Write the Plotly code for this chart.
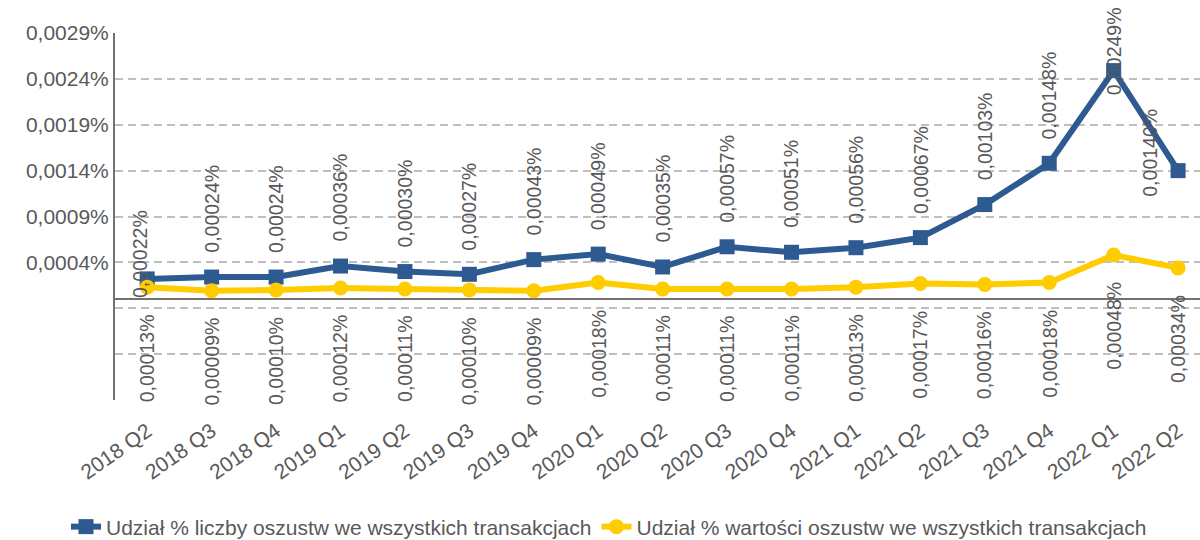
import plotly.graph_objects as go

# quarters on the x axis
quarters = ["2018 Q2", "2018 Q3", "2018 Q4", "2019 Q1", "2019 Q2", "2019 Q3",
            "2019 Q4", "2020 Q1", "2020 Q2", "2020 Q3", "2020 Q4", "2021 Q1",
            "2021 Q2", "2021 Q3", "2021 Q4", "2022 Q1", "2022 Q2"]

# share (in %) of fraudulent transactions - by count and by value
count_share = [0.00022, 0.00024, 0.00024, 0.00036, 0.00030, 0.00027, 0.00043,
               0.00049, 0.00035, 0.00057, 0.00051, 0.00056, 0.00067, 0.00103,
               0.00148, 0.00249, 0.00140]
value_share = [0.00013, 0.00009, 0.00010, 0.00012, 0.00011, 0.00010, 0.00009,
               0.00018, 0.00011, 0.00011, 0.00011, 0.00013, 0.00017, 0.00016,
               0.00018, 0.00048, 0.00034]

# y axis ticks (negative ones only get a gridline, no label)
y_ticks = [-0.0011, -0.0006, -0.0001, 0.0004, 0.0009, 0.0014, 0.0019, 0.0024, 0.0029]

count_name = "Udział % liczby oszustw we wszystkich transakcjach"
value_name = "Udział % wartości oszustw we wszystkich transakcjach"

BLUE = "#2E5A92"
YELLOW = "#FFCC00"
GREY_TXT = "#595959"
FONT = "Liberation Sans, Arial, sans-serif"


def pl(v, dec):
    return f"{v:.{dec}f}".replace(".", ",") + "%"


fig = go.Figure()
fig.add_trace(go.Scatter(
    x=quarters, y=count_share, name=count_name, mode="lines+markers",
    line=dict(color=BLUE, width=6),
    marker=dict(symbol="square", size=15, color=BLUE),
))
fig.add_trace(go.Scatter(
    x=quarters, y=value_share, name=value_name, mode="lines+markers",
    line=dict(color=YELLOW, width=6),
    marker=dict(symbol="circle", size=15, color=YELLOW),
))

# label placement tweaks (Excel moved a few labels around)
count_shift = {0: (-7, -21), 15: (0, -27), 16: (-28, -28)}

annotations = []
for i, q in enumerate(quarters):
    dx, dy = count_shift.get(i, (0, 22))
    annotations.append(dict(
        x=q, y=count_share[i], text=pl(count_share[i], 5), showarrow=False,
        textangle=-90, yanchor="bottom", xanchor="center",
        xshift=dx, yshift=dy, font=dict(size=19.5, color=GREY_TXT),
    ))
    annotations.append(dict(
        x=q, y=value_share[i], text=pl(value_share[i], 5), showarrow=False,
        textangle=-90, yanchor="top", xanchor="center",
        yshift=-25, font=dict(size=19.5, color=GREY_TXT),
    ))

fig.update_layout(
    width=1200, height=540,
    margin=dict(l=115, r=0, t=33, b=140, autoexpand=False),
    paper_bgcolor="white", plot_bgcolor="white",
    font=dict(family=FONT, size=21, color=GREY_TXT),
    showlegend=True,
    legend=dict(orientation="h", xref="container", x=0.5075, xanchor="center",
                y=-0.346, yanchor="middle", font=dict(size=21, color=GREY_TXT),
                tracegroupgap=0, bgcolor="rgba(0,0,0,0)"),
    annotations=annotations,
)
fig.update_xaxes(
    type="category", range=[-0.5, 16.34], tickangle=-35, automargin=False,
    showgrid=False, showline=False, ticks="", zeroline=False,
    ticklabelstandoff=14, tickfont=dict(size=21, color=GREY_TXT),
)
fig.update_yaxes(
    range=[-0.0011, 0.0029], tickvals=y_ticks, automargin=False,
    ticktext=[pl(v, 4) if v > 0 else "" for v in y_ticks],
    showgrid=True, gridcolor="#BFBFBF", gridwidth=2, griddash="8px,5px",
    zeroline=True, zerolinecolor="#767171", zerolinewidth=2,
    showline=True, linecolor="#767171", linewidth=2,
    ticks="", tickfont=dict(size=21, color=GREY_TXT),
)

# drop the default 8px body margin so the figure sits at the page corner
fig.write_html("out.html", config={"displayModeBar": False},
               post_script="document.body.style.margin='0';")
